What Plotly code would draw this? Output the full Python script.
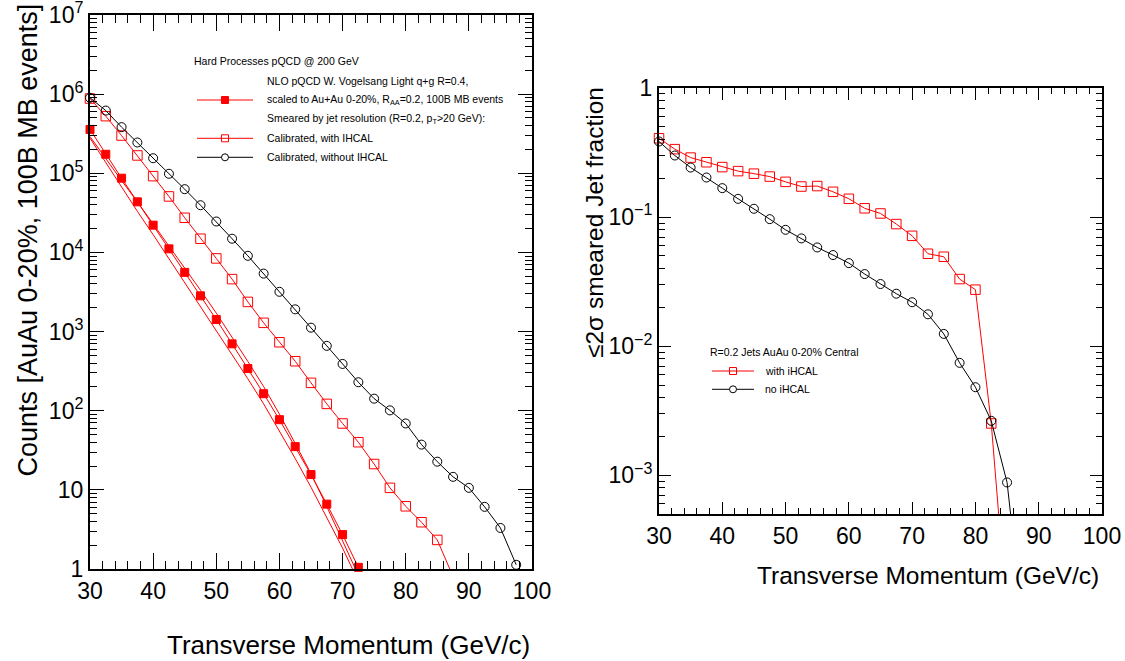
import numpy as np
import plotly.graph_objects as go

# ---------------- data ----------------
pt_black_left = [30, 32.5, 35, 37.5, 40, 42.5, 45, 47.5, 50, 52.5, 55, 57.5, 60, 62.5,
                 65, 67.5, 70, 72.5, 75, 77.5, 80, 82.5, 85, 87.5, 90, 92.5, 95, 97.5]
counts_without_ihcal = [9.0e5, 6.2e5, 3.83e5, 2.45e5, 1.55e5, 9.86e4, 6.3e4, 3.95e4, 2.46e4,
                        1.49e4, 9.06e3, 5.4e3, 3.18e3, 1.91e3, 1.12e3, 660, 390, 229, 142,
                        101, 69, 37.3, 22.7, 14.6, 10.6, 6.1, 3.3, 1.13]

pt_red_left = [30, 32.5, 35, 37.5, 40, 42.5, 45, 47.5, 50, 52.5, 55, 57.5, 60, 62.5,
               65, 67.5, 70, 72.5, 75, 77.5, 80, 82.5, 85, 87.5]
counts_with_ihcal = [8.8e5, 5.27e5, 3.0e5, 1.68e5, 9.2e4, 5.1e4, 2.74e4, 1.49e4, 8.4e3,
                     4.6e3, 2.37e3, 1.29e3, 733, 422, 225, 122, 69, 40, 21.2, 10.6, 6.2,
                     3.9, 2.33, 0.8]

pt_nlo = [30, 32.5, 35, 37.5, 40, 42.5, 45, 47.5, 50, 52.5, 55, 57.5, 60, 62.5,
          65, 67.5, 70, 72.5, 75]
counts_nlo = [3.58e5, 1.74e5, 8.67e4, 4.36e4, 2.21e4, 1.11e4, 5.6e3, 2.83e3, 1.42e3, 700,
              341, 164, 77, 35.2, 15.6, 6.6, 2.72, 1.05, 0.38]
counts_nlo_band_a = [2.78e5, 1.35e5, 6.65e4, 3.31e4, 1.68e4, 8.32e3, 4.2e3, 2.10e3, 1.05e3,
                     519, 253, 122, 55.8, 24.9, 10.8, 4.51, 1.84, 0.694, 0.24]
counts_nlo_band_b = [2.91e5, 1.52e5, 8.09e4, 4.36e4, 2.31e4, 1.22e4, 6.43e3, 3.33e3, 1.71e3,
                     861, 419, 202, 90.5, 38.6, 16.0, 6.16, 2.31, 0.834, 0.28]

pt_frac_with = [30, 32.5, 35, 37.5, 40, 42.5, 45, 47.5, 50, 52.5, 55, 57.5, 60, 62.5,
                65, 67.5, 70, 72.5, 75, 77.5, 80, 82.5, 85]
frac_with_ihcal = [0.408, 0.336, 0.289, 0.266, 0.244, 0.227, 0.217, 0.206, 0.1875, 0.1725,
                   0.174, 0.157, 0.1386, 0.117, 0.1067, 0.0883, 0.0716, 0.052, 0.0493,
                   0.0331, 0.0274, 0.00252, 8e-5]
pt_frac_no = [30, 32.5, 35, 37.5, 40, 42.5, 45, 47.5, 50, 52.5, 55, 57.5, 60, 62.5,
              65, 67.5, 70, 72.5, 75, 77.5, 80, 82.5, 85, 87.5]
frac_no_ihcal = [0.385, 0.30, 0.242, 0.2025, 0.1676, 0.1385, 0.116, 0.0964, 0.0797, 0.0684,
                 0.0582, 0.0508, 0.044, 0.0362, 0.0303, 0.0255, 0.0219, 0.01766, 0.01245,
                 0.00743, 0.00481, 0.00264, 0.00088, 7e-5]

x_ticks = [30, 40, 50, 60, 70, 80, 90, 100]
left_y_ticks = [1, 10, 1e2, 1e3, 1e4, 1e5, 1e6, 1e7]
left_y_labels = ["1", "10", "10<sup>2</sup>", "10<sup>3</sup>", "10<sup>4</sup>",
                 "10<sup>5</sup>", "10<sup>6</sup>", "10<sup>7</sup>"]
right_y_ticks = [1e-3, 1e-2, 1e-1, 1]
right_y_labels = ["10<sup>\u22123</sup>", "10<sup>\u22122</sup>", "10<sup>\u22121</sup>", "1"]

LEFT_YMIN, RIGHT_YMIN = 1.0, 10 ** -3.3

# ---------------- figure ----------------
W, H = 1125, 661
FONT = "Liberation Sans, Arial, Helvetica, sans-serif"
RED, BLACK = "#ff0000", "#000000"


def px(x):
    return x / W


def py(y):
    return 1 - y / H


def visible(xs, ys, lo):
    xs, ys = np.asarray(xs), np.asarray(ys)
    m = ys >= lo
    return xs[m], ys[m]


fig = go.Figure()


def add_series(xs, ys, color, symbol, size, xa, ya, lo, markers=True):
    fig.add_trace(go.Scatter(x=xs, y=ys, mode="lines", line=dict(color=color, width=1),
                             xaxis=xa, yaxis=ya, hoverinfo="skip"))
    if markers:
        vx, vy = visible(xs, ys, lo)
        fig.add_trace(go.Scatter(x=vx, y=vy, mode="markers", cliponaxis=False,
                                 marker=dict(symbol=symbol, size=size, color=color,
                                             line=dict(color=color, width=1)),
                                 xaxis=xa, yaxis=ya))


# left panel
add_series(pt_nlo, counts_nlo_band_a, RED, None, 0, "x", "y", LEFT_YMIN, markers=False)
add_series(pt_nlo, counts_nlo_band_b, RED, None, 0, "x", "y", LEFT_YMIN, markers=False)
add_series(pt_nlo, counts_nlo, RED, "square", 8, "x", "y", LEFT_YMIN)
add_series(pt_red_left, counts_with_ihcal, RED, "square-open", 9.5, "x", "y", LEFT_YMIN)
add_series(pt_black_left, counts_without_ihcal, BLACK, "circle-open", 9, "x", "y", LEFT_YMIN)
# right panel
add_series(pt_frac_with, frac_with_ihcal, RED, "square-open", 9.5, "x2", "y2", RIGHT_YMIN)
add_series(pt_frac_no, frac_no_ihcal, BLACK, "circle-open", 9, "x2", "y2", RIGHT_YMIN)

x_minor = [v for v in range(30, 101, 2) if v % 10]


def log_minor(lo, hi):
    return [m * 10.0 ** k for k in range(lo, hi) for m in range(2, 10)]


axis_common = dict(showline=True, linecolor=BLACK, linewidth=2, mirror="allticks",
                   ticks="inside", tickcolor=BLACK, tickwidth=1, showgrid=False,
                   zeroline=False, automargin=False, ticklabeloverflow="allow",
                   tickfont=dict(family=FONT, size=23, color=BLACK))

fig.update_layout(
    width=W, height=H, margin=dict(l=0, r=0, t=0, b=0, autoexpand=False),
    paper_bgcolor="white", plot_bgcolor="white", showlegend=False,
    xaxis=dict(axis_common, domain=[px(90), px(532)], range=[30, 100], anchor="y",
               tickmode="array", tickvals=x_ticks, ticklen=16,
               minor=dict(tickmode="array", tickvals=x_minor, ticks="inside", ticklen=8,
                          tickcolor=BLACK, tickwidth=1)),
    yaxis=dict(axis_common, domain=[py(569), py(15)], type="log", range=[0, 7], anchor="x",
               tickmode="array", tickvals=left_y_ticks, ticktext=left_y_labels, ticklen=14,
               minor=dict(tickmode="array", tickvals=log_minor(0, 7), ticks="inside",
                          ticklen=7, tickcolor=BLACK, tickwidth=1)),
    xaxis2=dict(axis_common, domain=[px(659), px(1102)], range=[30, 100], anchor="y2",
                tickmode="array", tickvals=x_ticks, ticklen=12,
                minor=dict(tickmode="array", tickvals=x_minor, ticks="inside", ticklen=6,
                           tickcolor=BLACK, tickwidth=1)),
    yaxis2=dict(axis_common, domain=[py(514), py(88)], type="log", range=[-3.3, 0],
                anchor="x2", tickmode="array", tickvals=right_y_ticks,
                ticktext=right_y_labels, ticklen=12,
                minor=dict(tickmode="array", tickvals=log_minor(-4, 0), ticks="inside",
                           ticklen=6, tickcolor=BLACK, tickwidth=1)),
)

annotations = []
shapes = []


def text(x, y, s, size, xanchor="left", yanchor="middle", angle=0):
    annotations.append(dict(x=px(x), y=py(y), xref="paper", yref="paper", text=s,
                            showarrow=False, xanchor=xanchor, yanchor=yanchor,
                            textangle=angle, font=dict(family=FONT, size=size, color=BLACK)))


def key(x0, x1, y, color, kind, msize=7):
    shapes.append(dict(type="line", xref="paper", yref="paper", x0=px(x0), x1=px(x1),
                       y0=py(y), y1=py(y), line=dict(color=color, width=1)))
    cx = (x0 + x1) / 2
    h = msize / 2
    if kind == "circle":
        shapes.append(dict(type="circle", xref="paper", yref="paper", x0=px(cx - h),
                           x1=px(cx + h), y0=py(y + h), y1=py(y - h),
                           line=dict(color=color, width=1), fillcolor="white"))
    else:
        shapes.append(dict(type="rect", xref="paper", yref="paper", x0=px(cx - h),
                           x1=px(cx + h), y0=py(y + h), y1=py(y - h),
                           line=dict(color=color, width=1),
                           fillcolor=color if kind == "filled" else "rgba(0,0,0,0)"))


# axis titles
text(27, 240.5, "Counts [AuAu 0-20%, 100B MB events]", 27, "center", "middle", -90)
text(532, 645, "Transverse Momentum (GeV/c)", 26, "right", "middle")
text(1101, 575, "Transverse Momentum (GeV/c)", 24.5, "right", "middle")
text(595, 223, "\u22642\u03c3 smeared Jet fraction", 24.5, "center", "middle", -90)

# left legend
LS = 10.5
text(192, 60.7, "Hard Processes pQCD @ 200 GeV", LS)
text(265, 81, "NLO pQCD W. Vogelsang Light q+g R=0.4,", LS)
key(197, 253, 100, RED, "filled")
text(265, 100, "scaled to Au+Au 0-20%, R<sub>AA</sub>=0.2, 100B MB events", LS)
text(265, 119.3, "Smeared by jet resolution (R=0.2, p<sub>T</sub>>20 GeV):", LS)
key(197, 253, 138.3, RED, "open")
text(265, 138.3, "Calibrated, with IHCAL", LS)
key(197, 253, 157.3, BLACK, "circle")
text(265, 157.3, "Calibrated, without IHCAL", LS)

# right legend
text(708, 352.3, "R=0.2 Jets AuAu 0-20% Central", LS)
key(712, 754, 371, RED, "open")
text(762.7, 371, "with iHCAL", LS)
key(712, 754, 389.3, BLACK, "circle")
text(762.7, 389.3, "no iHCAL", LS)

fig.update_layout(annotations=annotations, shapes=shapes)
fig.write_html("out.html", config={"displayModeBar": False},
               post_script="document.body.style.margin='0';"
                           "document.body.style.overflow='hidden';")
